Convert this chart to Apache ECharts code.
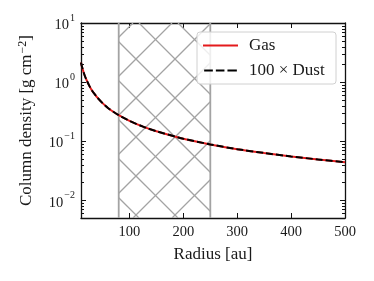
<!DOCTYPE html>
<html>
<head>
<meta charset="utf-8">
<script src="https://cdn.jsdelivr.net/npm/echarts@6/dist/echarts.min.js"></script>
<style>html,body{margin:0;padding:0;background:#fff;}#c{width:374px;height:281px;}</style>
</head>
<body>
<div id="c"></div>
<script>
// ---- data ----
const radius   = [10, 11, 12, 13, 15, 17, 20, 25, 30, 35, 40, 50, 60, 70, 80, 100, 125, 150, 200, 250, 300, 350, 400, 450, 500];
const gas      = [2.15, 1.95, 1.8, 1.66, 1.45, 1.28, 1.1, 0.88, 0.73, 0.63, 0.55, 0.44, 0.365, 0.315, 0.275, 0.22, 0.176, 0.147, 0.11, 0.088, 0.073, 0.063, 0.055, 0.049, 0.044];
const dust100  = [2.15, 1.95, 1.8, 1.66, 1.45, 1.28, 1.1, 0.88, 0.73, 0.63, 0.55, 0.44, 0.365, 0.315, 0.275, 0.22, 0.176, 0.147, 0.11, 0.088, 0.073, 0.063, 0.055, 0.049, 0.044];
const hatchRange = [80, 250];
const seriesNames = ['Gas', '100 × Dust'];
const xTicks = [100, 200, 300, 400, 500];
const yDecades = [-2, -1, 0, 1];
const xRange = [10, 500];
const yRange = [0.005, 10];

const FONT = 'Liberation Serif';
const TXT = '#1a1a1a';
const chart = echarts.init(document.getElementById('c'), null, {renderer: 'canvas'});

function yLabel(v) {
  const e = Math.round(Math.log10(v));
  if (Math.abs(Math.log10(v) - e) > 1e-6 || yDecades.indexOf(e) < 0) return '';
  return '{b|10}{s|' + (e < 0 ? '\u2212' : '') + Math.abs(e) + '}';
}
const supRich = {
  b: {fontFamily: FONT, fontSize: 14.5, color: TXT, verticalAlign: 'bottom', lineHeight: 20},
  s: {fontFamily: FONT, fontSize: 10, color: TXT, verticalAlign: 'top', lineHeight: 20, padding: [0, 0, 6, 1]}
};

const gasLine = radius.map((r, i) => [r, gas[i]]);
const dustLine = radius.map((r, i) => [r, dust100[i]]);

const axisLine = {show: true, lineStyle: {color: '#111', width: 1.3}};
const option = {
  animation: false,
  grid: {left: 81, right: 29, top: 23, bottom: 63, containLabel: false},
  xAxis: [{
    type: 'value', min: xRange[0], max: xRange[1], splitNumber: 5,
    axisLine: axisLine,
    axisTick: {inside: true, length: 5, lineStyle: {color: '#111', width: 1}},
    splitLine: {show: false},
    axisLabel: {margin: 7, fontFamily: FONT, fontSize: 14.5, color: TXT,
      formatter: v => xTicks.indexOf(v) >= 0 ? String(v) : ''},
    name: 'Radius [au]', nameLocation: 'middle', nameGap: 28,
    nameTextStyle: {fontFamily: FONT, fontSize: 17, color: TXT}
  }, {
    type: 'value', position: 'top', min: xRange[0], max: xRange[1], splitNumber: 5,
    axisLine: axisLine,
    axisTick: {inside: true, length: 5, lineStyle: {color: '#111', width: 1}},
    splitLine: {show: false}, axisLabel: {show: false}
  }],
  yAxis: [{
    type: 'log', logBase: 10, min: yRange[0], max: yRange[1],
    axisLine: axisLine,
    axisTick: {inside: true, length: 5, lineStyle: {color: '#111', width: 1}},
    splitLine: {show: false}, minorTick: {show: false},
    axisLabel: {margin: 6, formatter: yLabel, rich: supRich},
    name: 'Column density [g cm{s|\u22122}]', nameLocation: 'middle', nameGap: 45,
    nameTextStyle: {fontFamily: FONT, fontSize: 17, color: TXT, rich: {
      s: {fontFamily: FONT, fontSize: 12, color: TXT, verticalAlign: 'top', padding: [0, 0, 7, 1]}
    }}
  }, {
    type: 'log', logBase: 10, position: 'right', min: yRange[0], max: yRange[1],
    axisLine: axisLine,
    axisTick: {inside: true, length: 5, lineStyle: {color: '#111', width: 1}},
    splitLine: {show: false}, axisLabel: {show: false}
  }],
  legend: {
    left: 197, top: 32, orient: 'vertical',
    padding: [5, 7, 5, 6], itemGap: 8, itemWidth: 35, itemHeight: 2,
    backgroundColor: 'rgba(255,255,255,0.82)', borderColor: '#d0d0d0', borderWidth: 1, borderRadius: 3,
    textStyle: {fontFamily: FONT, fontSize: 17, color: TXT, lineHeight: 17, width: 80, padding: [0, 0, 0, 6]},
    data: [
      {name: seriesNames[0], icon: 'path://M0,0H35V2H0Z'},
      {name: seriesNames[1], icon: 'path://M0,0H8.7V2H0Z M11.7,0H20.3V2H11.7Z M23.3,0H32.7V2H23.3Z'}
    ]
  },
  series: [{
    type: 'custom', name: 'hatch', silent: true, z: 1, clip: true,
    encode: {x: [0, 1]},
    data: [hatchRange],
    renderItem: function (params, api) {
      const cs = params.coordSys;
      const x0 = api.coord([api.value(0), 1])[0];
      const x1 = api.coord([api.value(1), 1])[0];
      const y0 = cs.y, y1 = cs.y + cs.height;
      const P = 39, col = '#a3a3a3';
      const children = [];
      for (let c = Math.floor((x0 + y0) / P) * P; c <= x1 + y1; c += P) {
        const xa = Math.max(x0, c - y1), xb = Math.min(x1, c - y0);
        if (xb > xa) children.push({type: 'line', shape: {x1: xa, y1: c - xa, x2: xb, y2: c - xb}, style: {stroke: col, lineWidth: 1.3}});
      }
      for (let c = Math.floor((x0 - y1) / P) * P - 1; c <= x1 - y0; c += P) {
        const xa = Math.max(x0, c + y0), xb = Math.min(x1, c + y1);
        if (xb > xa) children.push({type: 'line', shape: {x1: xa, y1: xa - c, x2: xb, y2: xb - c}, style: {stroke: col, lineWidth: 1.3}});
      }
      children.push({type: 'line', shape: {x1: x0, y1: y0, x2: x0, y2: y1}, style: {stroke: col, lineWidth: 1.8}});
      children.push({type: 'line', shape: {x1: x1, y1: y0, x2: x1, y2: y1}, style: {stroke: col, lineWidth: 1.8}});
      return {type: 'group', children: children};
    }
  }, {
    type: 'line', name: seriesNames[0], data: gasLine, showSymbol: false, symbol: 'none', smooth: 0.2, z: 3,
    lineStyle: {color: '#e41a1c', width: 2}, itemStyle: {color: '#e41a1c'}
  }, {
    type: 'line', name: seriesNames[1], data: dustLine, showSymbol: false, symbol: 'none', smooth: 0.2, z: 4,
    lineStyle: {color: '#000', width: 2, type: [7, 3]}, itemStyle: {color: '#000'}
  }]
};
chart.setOption(option);

// log-spaced minor ticks on left and right axes
const xl = chart.convertToPixel({xAxisIndex: 0}, xRange[0]);
const xr = chart.convertToPixel({xAxisIndex: 0}, xRange[1]);
const minor = [];
for (let k = -3; k <= 1; k++) {
  for (let m = 2; m <= 9; m++) {
    const v = m * Math.pow(10, k);
    if (v <= yRange[0] || v >= yRange[1]) continue;
    const y = Math.round(chart.convertToPixel({yAxisIndex: 0}, v)) + 0.5;
    minor.push({type: 'line', silent: true, z: 10, shape: {x1: xl, y1: y, x2: xl + 3, y2: y}, style: {stroke: '#111', lineWidth: 1}});
    minor.push({type: 'line', silent: true, z: 10, shape: {x1: xr - 3, y1: y, x2: xr, y2: y}, style: {stroke: '#111', lineWidth: 1}});
  }
}
chart.setOption({graphic: minor});
</script>
</body>
</html>
